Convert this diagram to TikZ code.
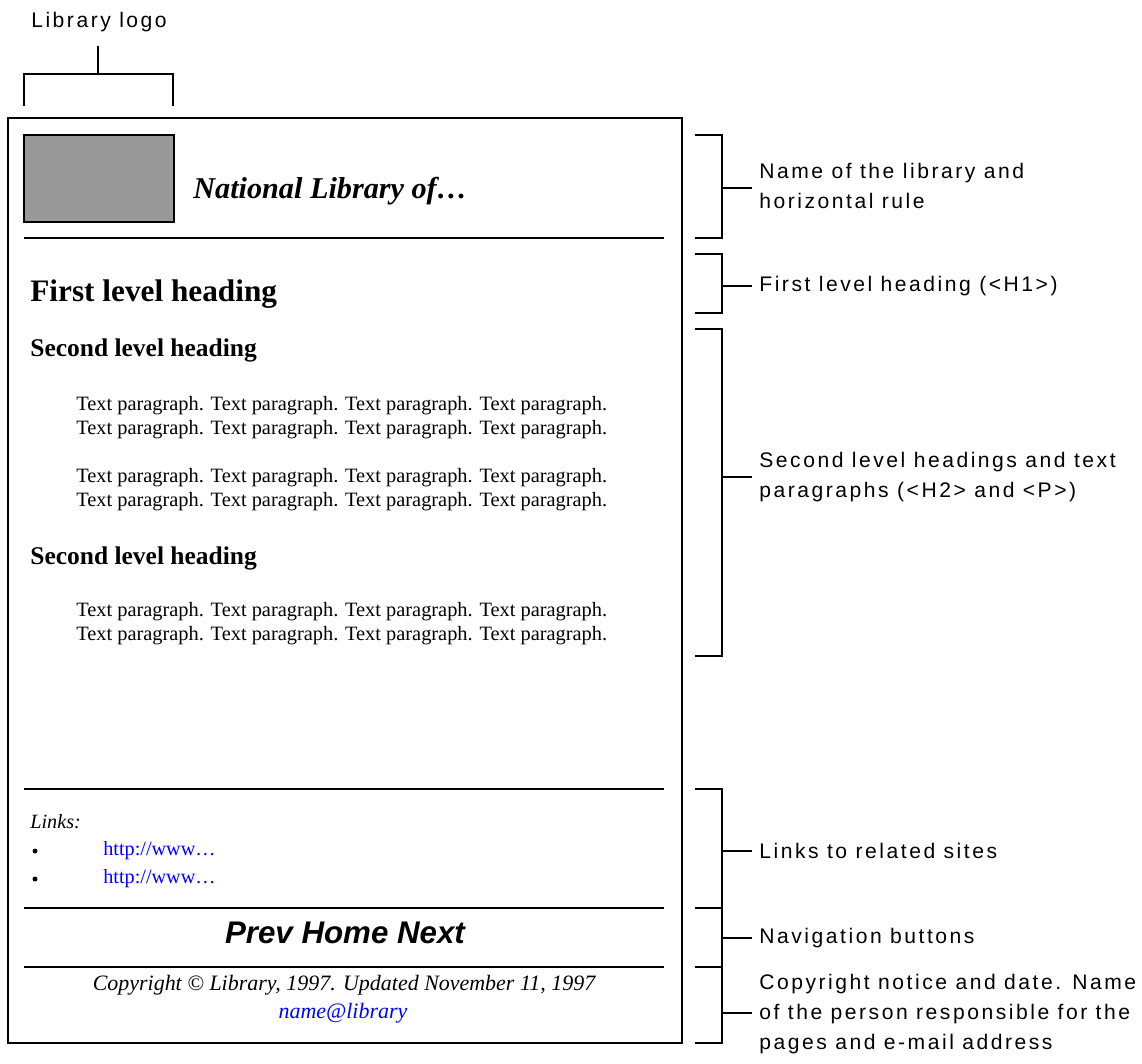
\documentclass[tikz,border=0pt]{standalone}
\usepackage{fontspec}
\setmainfont{Liberation Serif}
\newfontfamily\calloutfont[LetterSpace=12]{Liberation Sans}
\newfontfamily\navfont{Liberation Sans}
\definecolor{logogray}{HTML}{999999}
\definecolor{linkblue}{HTML}{0000FF}
\tikzset{
  callout/.style={anchor=west, inner xsep=4pt, inner ysep=0pt, align=left,
    font=\calloutfont\fontsize{12}{17}\selectfont},
  bracket/.style={thick},
  para/.style={anchor=west, inner sep=0pt, align=left,
    font=\fontsize{11.6}{13.6}\selectfont},
}

\begin{document}
\begin{tikzpicture}[x=0.02cm, y=-0.02cm]
\useasboundingbox (0,0) rectangle (1142,1064);
% Page frame
\draw[thick] (8,118) rectangle (682,1043);
% Logo
\draw[thick, fill=logogray] (24,135) rectangle (174,222);
\node[anchor=west, inner sep=0pt, font=\fontsize{17.2}{20}\selectfont\bfseries\itshape] (libname) at (193,191) {National Library of\dots};
% Rules
\draw[thick] (24,238) -- (664,238);
\draw[thick] (24,789) -- (664,789);
\draw[thick] (24,908) -- (664,908);
\draw[thick] (24,967) -- (664,967);

% Headings and paragraphs
\node[anchor=west, inner sep=0pt, font=\fontsize{17.8}{20}\selectfont\bfseries] (hone) at (30,294) {First level heading};
\node[anchor=west, inner sep=0pt, font=\fontsize{14.5}{17}\selectfont\bfseries] (htwoa) at (30,350) {Second level heading};
\node[para] (para1) at (76,418) {Text paragraph. Text paragraph. Text paragraph. Text paragraph.\\Text paragraph. Text paragraph. Text paragraph. Text paragraph.};
\node[para] (para2) at (76,490) {Text paragraph. Text paragraph. Text paragraph. Text paragraph.\\Text paragraph. Text paragraph. Text paragraph. Text paragraph.};
\node[anchor=west, inner sep=0pt, font=\fontsize{14.5}{17}\selectfont\bfseries] (htwob) at (30,558) {Second level heading};
\node[para] (para3) at (76,624) {Text paragraph. Text paragraph. Text paragraph. Text paragraph.\\Text paragraph. Text paragraph. Text paragraph. Text paragraph.};

% Links
\node[anchor=west, inner sep=0pt, font=\fontsize{11.5}{13.6}\selectfont\itshape] (links) at (30,822) {Links:};
\foreach \y/\n in {851/linka, 879/linkb} {
  \fill (35,\y) circle (2.5);
  \node[anchor=west, inner sep=0pt, text=linkblue, font=\fontsize{11.5}{13.6}\selectfont] (\n) at (103,\y) {http://www\dots};
}

% Navigation and footer
\node[font=\navfont\fontsize{17.8}{20}\selectfont\bfseries\itshape] (nav) at (345,933) {Prev Home Next};
\node[font=\fontsize{12.5}{14}\selectfont\itshape] (copy) at (344,985) {Copyright \textcopyright\ Library, 1997. Updated November 11, 1997};
\node[text=linkblue, font=\fontsize{12.5}{14}\selectfont\itshape] (mail) at (343,1013) {name@library};

% Logo callout
\node[font=\calloutfont\fontsize{12}{17}\selectfont, inner sep=0pt] (logolbl) at (99,22) {Library logo};
\draw[bracket] (24,106) -- (24,74) -- (173,74) -- (173,106);
\draw[bracket] (98,74) -- (98,46);

% Callouts on the right
\node[callout] (namelbl) at (752,186) {Name of the library and\\horizontal rule};
\node[callout] (honelbl) at (752,286) {First level heading (<H1>)};
\node[callout] (htwolbl) at (752,477) {Second level headings and text\\paragraphs (<H2> and <P>)};
\node[callout] (linkslbl) at (752,851) {Links to related sites};
\node[callout] (navlbl) at (752,938) {Navigation buttons};
\node[callout] (copylbl) at (752,1014) {Copyright notice and date. Name\\of the person responsible for the\\pages and e-mail address};

\foreach \ya/\yb/\ym/\n in {135/238/188/namelbl, 254/313/286/honelbl, 329/656/477/htwolbl,
    789/908/851/linkslbl, 908/967/938/navlbl, 967/1043/1013/copylbl} {
  \draw[bracket] (695,\ya) -- (722,\ya) -- (722,\yb) -- (695,\yb);
  \draw[bracket] (722,\ym) -- (\n.west |- 0,\ym);
}
\end{tikzpicture}
\end{document}
